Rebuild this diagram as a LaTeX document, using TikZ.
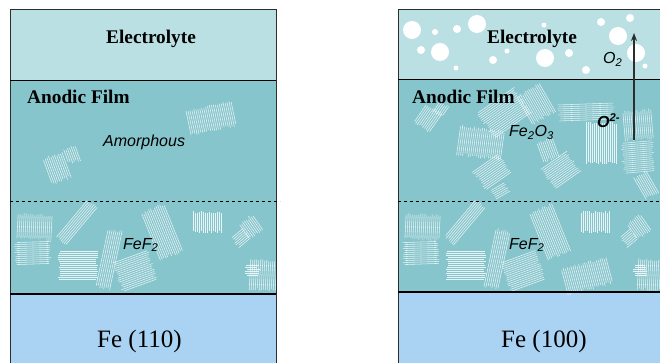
\documentclass[tikz,border=0pt]{standalone}
\usepackage{fontspec}
\setmainfont{Liberation Serif}
\setsansfont{Liberation Sans}
\usetikzlibrary{arrows.meta}

\definecolor{electrolyte}{RGB}{187,224,227}
\definecolor{film}{RGB}{135,197,204}
\definecolor{metal}{RGB}{170,210,242}
\definecolor{bord}{RGB}{45,45,45}

% grain cristallin : centre x, centre y, angle, largeur, longueur des traits
\newcommand{\grain}[5]{%
  \begin{scope}[shift={(#1,#2)},rotate=#3]
    \pgfmathtruncatemacro{\grainn}{#4/2}
    \foreach \k in {0,...,\grainn}{
      \pgfmathsetmacro{\gx}{-#4/2+\k*2}
      \pgfmathsetmacro{\ga}{-#5/2+1.5*rand}
      \pgfmathsetmacro{\gb}{#5/2+1.5*rand}
      \draw[trait] (\gx,\ga) -- (\gx,\gb);
    }
  \end{scope}}

% couche de FeF2 (meme motif sous les deux films)
\newcommand{\couchefef}{%
  \grain{35}{227}{-3}{35}{24}
  \grain{33}{253}{92}{22}{34}
  \grain{77}{222}{-40}{12}{48}
  \grain{78}{265}{90}{28}{38}
  \grain{109}{259}{-12}{14}{58}
  \grain{135}{271}{110}{30}{36}
  \grain{162}{232}{22}{24}{50}
  \grain{207}{222}{0}{28}{20}
  \grain{251}{227}{35}{16}{18}
  \grain{241}{238}{-50}{12}{14}
  \grain{263}{275}{-3}{26}{30}
  \grain{252}{270}{90}{10}{12}}

\begin{document}
\begin{tikzpicture}[x=1pt,y=-1pt,
  trait/.style={white, line width=0.55pt, opacity=0.8},
  titre/.style={anchor=base west, inner sep=0pt, font=\fontsize{19.3}{22}\selectfont\bfseries},
  substrat/.style={anchor=base west, inner sep=0pt, font=\fontsize{25}{28}\selectfont},
  chimie/.style={anchor=base west, inner sep=0pt, font=\fontsize{16}{19}\selectfont\sffamily\itshape}]
  \useasboundingbox (0,0) rectangle (660,363);
  \pgfmathsetseed{7}

  % Dessin des deux empilements : electrolyte, film, metal
  \foreach \xo/\ya/\yb in {10/81/294, 398/80/292}{
    \fill[electrolyte] (\xo,9) rectangle (\xo+266,\ya);
    \fill[film] (\xo,\ya) rectangle (\xo+266,\yb);
    \fill[metal] (\xo,\yb) rectangle (\xo+266,370);
  }

  % Grains du film amorphe
  \grain{211}{118}{12}{46}{24}
  \grain{57}{168}{20}{20}{26}
  \grain{72}{155}{20}{12}{14}

  % Grains de FeF2
  \couchefef
  \begin{scope}[xshift=388]
    \couchefef
  \end{scope}
  \grain{587}{276}{15}{46}{26}

  % Grains de Fe2O3
  \grain{428}{118}{-35}{18}{22}
  \grain{441}{109}{-35}{10}{12}
  \grain{481}{143}{-8}{45}{28}
  \grain{504}{113}{-55}{30}{44}
  \grain{536}{104}{30}{26}{32}
  \grain{586}{112}{92}{16}{54}
  \grain{492}{172}{125}{22}{30}
  \grain{561}{170}{125}{24}{30}
  \grain{548}{150}{20}{16}{20}
  \grain{601}{143}{0}{30}{40}
  \grain{638}{125}{5}{28}{28}
  \grain{638}{157}{95}{30}{30}
  \grain{646}{185}{30}{14}{24}
  \grain{500}{191}{120}{10}{16}

  % Bulles d'oxygene
  \foreach \x/\y/\r in {412/30/9, 435/32/3, 457/29/4, 477/24/9, 421/50/4,
    440/52/9, 456/68/2.5, 493/60/4, 507/51/2.5, 544/25/2.5, 545/58/9,
    569/53/4, 586/70/4, 601/22/4, 618/36/9, 630/18/4, 636/53/9, 645/66/2.5}
    \fill[white] (\x,\y) circle (\r);

  % Bords et interfaces
  \foreach \xo/\ya/\yb in {10/81/294, 398/80/292}{
    \draw[bord, line width=0.8pt] (\xo,370) -- (\xo,9) -- (\xo+266,9) -- (\xo+266,370);
    \draw[black, line width=1pt] (\xo,\ya) -- (\xo+266,\ya);
    \draw[black, line width=1.3pt] (\xo,\yb) -- (\xo+266,\yb);
  }
  \draw[black, dashed, line width=0.7pt] (10,201) -- (280,201);
  \draw[black, dashed, line width=0.7pt] (398,201) -- (664,201);

  % Fleche de O2- vers O2
  \coordinate (depart) at (634,140);
  \coordinate (sortie) at (634,33);
  \draw[bord, line width=1.1pt, -{Stealth[length=8pt,width=6pt]}] (depart) -- (sortie);

  % Textes
  \node[titre] (elecg) at (106,44) {Electrolyte};
  \node[titre] (elecd) at (487,44) {Electrolyte};
  \node[titre] (filmg) at (27,104) {Anodic Film};
  \node[titre] (filmd) at (412,104) {Anodic Film};
  \node[chimie] (amorphe) at (103,147) {Amorphous};
  \node[chimie] (fefg) at (123,249) {FeF\textsubscript{2}};
  \node[chimie] (fefd) at (509,249) {FeF\textsubscript{2}};
  \node[chimie] (hemat) at (509,137) {Fe\textsubscript{2}O\textsubscript{3}};
  \node[chimie, font=\fontsize{16}{19}\selectfont\sffamily\itshape\bfseries] (ion) at (597,128) {O\textsuperscript{2-}};
  \node[chimie] (oxy) at (603,64) {O\textsubscript{2}};
  \node[substrat] (feg) at (97,347) {Fe (110)};
  \node[substrat] (fed) at (501,347) {Fe (100)};
\end{tikzpicture}
\end{document}
